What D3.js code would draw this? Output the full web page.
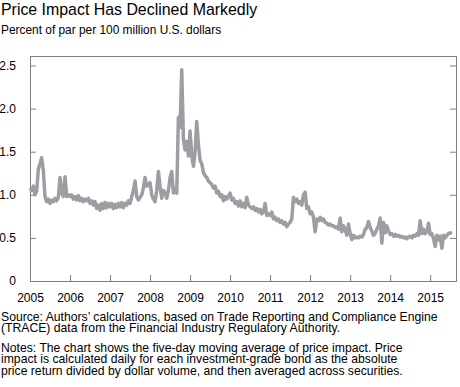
<!DOCTYPE html>
<html>
<head>
<meta charset="utf-8">
<script src="https://cdn.jsdelivr.net/npm/d3@7"></script>
<style>
  body { margin: 0; background: #fff; }
  svg { font-family: "Liberation Sans", Arial, sans-serif; }
</style>
</head>
<body>
<div id="chart"></div>
<script>
// price impact, read twice a month off the chart (percent of par per $100 million)
const v2005 = [1.08, 1.05, 1.10, 1.00, 1.04, 1.30, 1.36, 1.43, 1.28, 0.98, 0.92, 0.95,
               0.90, 0.94, 0.92, 0.96, 0.93, 0.97, 1.20, 1.02, 0.98, 1.21, 0.98, 1.00];
const v2006 = [0.98, 1.00, 0.95, 0.98, 0.94, 0.99, 0.93, 0.96, 0.92, 0.95, 0.93, 0.96,
               0.90, 0.93, 0.88, 0.92, 0.84, 0.88, 0.82, 0.90, 0.84, 0.91, 0.85, 0.90];
const v2007 = [0.86, 0.90, 0.84, 0.89, 0.85, 0.90, 0.86, 0.91, 0.85, 0.90, 0.88, 0.93,
               0.90, 0.98, 1.05, 1.16, 0.98, 0.94, 0.97, 1.00, 1.08, 1.20, 1.10, 1.12];
const v2008 = [1.14, 1.00, 0.95, 0.92, 1.05, 1.27, 1.10, 0.96, 1.05, 1.02, 0.96, 1.05,
               1.20, 1.27, 1.02, 1.06, 1.02, 1.90, 1.78, 2.45, 1.64, 1.52, 1.62, 1.45];
const v2009 = [1.74, 1.45, 1.33, 1.50, 1.85, 1.58, 1.40, 1.36, 1.26, 1.22, 1.20, 1.16,
               1.14, 1.12, 1.08, 1.10, 1.02, 1.04, 0.98, 1.00, 0.93, 0.98, 0.95, 0.98];
const v2010 = [1.02, 0.94, 0.96, 0.90, 0.92, 0.87, 0.93, 0.86, 0.90, 0.85, 0.97, 0.88,
               0.86, 0.84, 0.86, 0.82, 0.84, 0.80, 0.83, 0.78, 0.80, 0.90, 0.76, 0.78];
const v2011 = [0.76, 0.80, 0.72, 0.74, 0.70, 0.72, 0.68, 0.70, 0.66, 0.68, 0.63, 0.66,
               0.68, 0.72, 0.97, 0.92, 0.95, 0.90, 0.92, 0.88, 1.00, 1.03, 0.84, 0.86];
const v2012 = [0.78, 0.80, 0.74, 0.57, 0.72, 0.70, 0.74, 0.70, 0.72, 0.68, 0.67, 0.65,
               0.66, 0.64, 0.64, 0.62, 0.63, 0.60, 0.73, 0.57, 0.64, 0.60, 0.53, 0.66];
const v2013 = [0.55, 0.48, 0.53, 0.50, 0.51, 0.50, 0.52, 0.51, 0.54, 0.60, 0.62, 0.69,
               0.62, 0.58, 0.53, 0.55, 0.60, 0.64, 0.73, 0.44, 0.68, 0.56, 0.64, 0.58];
const v2014 = [0.54, 0.55, 0.52, 0.54, 0.52, 0.53, 0.51, 0.52, 0.50, 0.51, 0.49, 0.51,
               0.52, 0.50, 0.53, 0.52, 0.55, 0.53, 0.70, 0.55, 0.60, 0.55, 0.57, 0.67];
const v2015 = [0.54, 0.55, 0.49, 0.40, 0.53, 0.48, 0.52, 0.38, 0.53, 0.50, 0.53, 0.55,
               0.56, 0.55];

const impact = [].concat(v2005, v2006, v2007, v2008, v2009, v2010, v2011, v2012, v2013, v2014, v2015);

const xTicks = [2005, 2006, 2007, 2008, 2009, 2010, 2011, 2012, 2013, 2014, 2015];
const yTicks = [0, 0.5, 1.0, 1.5, 2.0, 2.5];
const yLabels = ["0", "0.5", "1.0", "1.5", "2.0", "2.5"];

const width = 460, height = 387;
const plotLeft = 30, plotRight = 456, plotTop = 56, plotBottom = 281;

// one point every half month starting 1 Jan 2005
const start = new Date(2005, 0, 1).getTime();
const step = 365.25 / 24 * 864e5;
const data = impact.map((v, i) => ({ date: new Date(start + i * step), value: v }));

const svg = d3.select('#chart')
    .append('svg')
    .attr('width', width)
    .attr('height', height);

const x = d3.scaleTime()
    .domain([new Date(2005, 0, 1), new Date(2015, 7, 25)])
    .range([plotLeft, plotRight]);

const y = d3.scaleLinear()
    .domain([0, 2.61])
    .range([plotBottom, plotTop]);

// title block
svg.append('text')
    .attr('x', 1).attr('y', 14.5)
    .attr('font-size', 15.9).attr('fill', '#000')
    .text('Price Impact Has Declined Markedly');

svg.append('text')
    .attr('x', 1).attr('y', 34)
    .attr('font-size', 11.9).attr('fill', '#000')
    .text('Percent of par per 100 million U.S. dollars');

// axes, ticks point inward
const tickColor = '#808080';
const xAxis = d3.axisBottom(x)
    .tickValues(xTicks.map(t => new Date(t, 0, 1)))
    .tickFormat(d => d.getFullYear())
    .tickSize(-6).tickPadding(12);
const yAxis = d3.axisLeft(y)
    .tickValues(yTicks)
    .tickFormat((d, i) => yLabels[i])
    .tickSize(-6).tickPadding(14);
const yAxisR = d3.axisRight(y)
    .tickValues(yTicks)
    .tickFormat('')
    .tickSize(-6);

function style(g) {
    g.select('.domain').remove();
    g.selectAll('line').attr('stroke', tickColor);
    g.selectAll('text').attr('font-size', 12).attr('fill', '#000')
        .attr('font-family', '"Liberation Sans", Arial, sans-serif');
}

svg.append('g').attr('transform', 'translate(0,' + plotBottom + ')').call(xAxis).call(style);
svg.append('g').attr('transform', 'translate(' + plotLeft + ',0)').call(yAxis).call(style);
svg.append('g').attr('transform', 'translate(' + plotRight + ',0)').call(yAxisR).call(style);

svg.append('rect')
    .attr('x', plotLeft + 0.5).attr('y', plotTop + 0.5)
    .attr('width', plotRight - plotLeft).attr('height', plotBottom - plotTop)
    .attr('fill', 'none').attr('stroke', tickColor);

// the series
const line = d3.line()
    .x(d => x(d.date))
    .y(d => y(d.value));

svg.append('path')
    .datum(data)
    .attr('d', line)
    .attr('fill', 'none')
    .attr('stroke', '#9d9ea3')
    .attr('stroke-width', 3.5)
    .attr('stroke-linejoin', 'round');

// notes
const notes = [
    ['Source: Authors\u2019 calculations, based on Trade Reporting and Compliance Engine', 320.5],
    ['(TRACE) data from the Financial Industry Regulatory Authority.', 332],
    ['Notes: The chart shows the five-day moving average of price impact. Price', 351.5],
    ['impact is calculated daily for each investment-grade bond as the absolute', 363],
    ['price return divided by dollar volume, and then averaged across securities.', 374.5]
];
svg.selectAll('text.note')
    .data(notes)
    .enter()
    .append('text')
    .attr('class', 'note')
    .attr('x', 1)
    .attr('y', d => d[1])
    .attr('font-size', 12.2)
    .attr('fill', '#000')
    .text(d => d[0]);
</script>
</body>
</html>
